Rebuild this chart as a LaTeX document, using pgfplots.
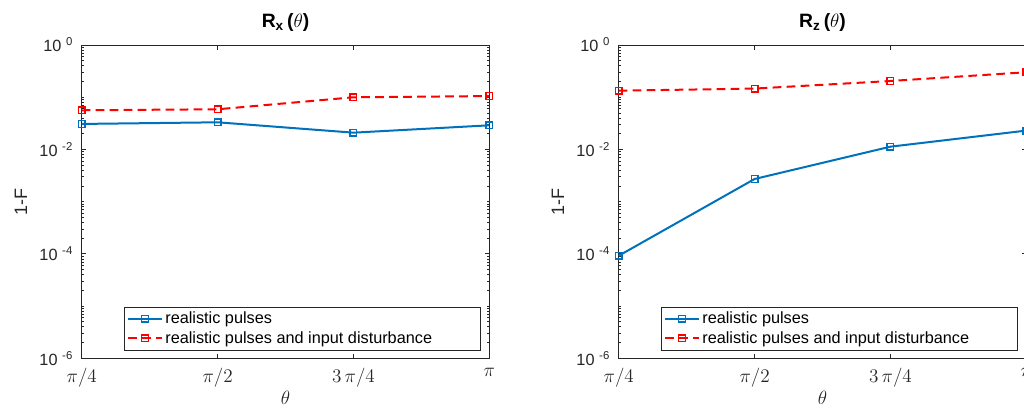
\documentclass[border=0pt]{standalone}
\usepackage{pgfplots}
\pgfplotsset{compat=1.18}
\usepackage{fontspec}
\setmainfont{Liberation Sans}
\definecolor{mblue}{rgb}{0,0.447,0.741}
\definecolor{mred}{rgb}{1,0,0}
\definecolor{mgray}{rgb}{0.15,0.15,0.15}

\pgfplotstableread{
x  y
1  0.0307
2  0.0330
3  0.0209
4  0.0289
}\LeftBlue
\pgfplotstableread{
x  y
1  0.0561
2  0.0586
3  0.0995
4  0.105
}\LeftRed
\pgfplotstableread{
x  y
1  9.2e-5
2  0.00271
3  0.01127
4  0.0229
}\RightBlue
\pgfplotstableread{
x  y
1  0.133
2  0.146
3  0.204
4  0.300
}\RightRed

\tikzset{
  blueline/.style={color=mblue, line width=1.5pt, mark=square, mark size=2.5pt, mark options={solid, line width=1pt}},
  redline/.style={color=mred, line width=1.5pt, dash pattern=on 6.5pt off 4pt, mark=square, mark size=2.5pt, mark options={solid, line width=1pt}},
}
\pgfplotsset{
  legend image code/.code={
    \draw[mark repeat=2,mark phase=2] plot coordinates {(0pt,0pt) (12.5pt,0pt) (25pt,0pt)};
  },
}
\newcommand{\tenexp}[1]{10\hspace{3.5pt}\textsuperscript{#1}}

\begin{document}
\begin{tikzpicture}
\begin{axis}[
    at={(0pt,0pt)}, anchor=south west,
    scale only axis, width=305.7pt, height=235pt,
    ymode=log, ymin=1e-6, ymax=1,
    xmin=1, xmax=4, xtick={1,2,3,4},
    xticklabels={$\pi/4$,$\pi/2$,$3\,\pi/4$,$\pi$},
    ytick={1e-6,1e-4,1e-2,1},
    yticklabels={\tenexp{-6},\tenexp{-4},\tenexp{-2},\tenexp{0}},
    minor ytick={2e-6,3e-6,4e-6,5e-6,6e-6,7e-6,8e-6,9e-6,1e-5,2e-5,3e-5,4e-5,5e-5,6e-5,7e-5,8e-5,9e-5,2e-4,3e-4,4e-4,5e-4,6e-4,7e-4,8e-4,9e-4,1e-3,2e-3,3e-3,4e-3,5e-3,6e-3,7e-3,8e-3,9e-3,2e-2,3e-2,4e-2,5e-2,6e-2,7e-2,8e-2,9e-2,1e-1,2e-1,3e-1,4e-1,5e-1,6e-1,7e-1,8e-1,9e-1},
    axis line style={mgray, line width=0.5pt},
    tick style={mgray, line width=0.5pt},
    major tick length=3.5pt, minor tick length=2pt,
    yticklabel style={font=\fontsize{12.2}{14}\selectfont, text=mgray, xshift=-3pt},
    xticklabel style={font=\fontsize{14}{16}\selectfont, text=mgray, yshift=-4pt},
    xlabel={$\theta$},
    xlabel style={font=\fontsize{14}{16}\selectfont, text=mgray, at={(axis description cs:0.5,-0.149)}, anchor=base},
    ylabel={1-F},
    ylabel style={font=\fontsize{13.5}{15}\selectfont, text=mgray, at={(axis description cs:-0.149,0.5)}, anchor=center},
    title={R\textsubscript{x}\,(\textnormal{$\theta$})},
    title style={font=\fontsize{14.5}{16}\selectfont\bfseries, at={(axis description cs:0.5,1.03)}, anchor=base},
    legend style={at={(rel axis cs:0.978,0.0255)}, anchor=south east,
      draw=mgray, line width=0.5pt, fill=white,
      font=\fontsize{12.2}{14}\selectfont, text=black,
      inner xsep=2pt, inner ysep=1.5pt, row sep=0.5pt},
    legend cell align=left,
  ]
  \addplot[blueline] table[x=x,y=y] {\LeftBlue};
  \addlegendentry{\makebox[232pt][l]{realistic pulses}}
  \addplot[redline] table[x=x,y=y] {\LeftRed};
  \addlegendentry{realistic pulses and input disturbance}
\end{axis}
\begin{axis}[
    at={(402.75pt,0pt)}, anchor=south west,
    scale only axis, width=305.7pt, height=235pt,
    ymode=log, ymin=1e-6, ymax=1,
    xmin=1, xmax=4, xtick={1,2,3,4},
    xticklabels={$\pi/4$,$\pi/2$,$3\,\pi/4$,$\pi$},
    ytick={1e-6,1e-4,1e-2,1},
    yticklabels={\tenexp{-6},\tenexp{-4},\tenexp{-2},\tenexp{0}},
    minor ytick={2e-6,3e-6,4e-6,5e-6,6e-6,7e-6,8e-6,9e-6,1e-5,2e-5,3e-5,4e-5,5e-5,6e-5,7e-5,8e-5,9e-5,2e-4,3e-4,4e-4,5e-4,6e-4,7e-4,8e-4,9e-4,1e-3,2e-3,3e-3,4e-3,5e-3,6e-3,7e-3,8e-3,9e-3,2e-2,3e-2,4e-2,5e-2,6e-2,7e-2,8e-2,9e-2,1e-1,2e-1,3e-1,4e-1,5e-1,6e-1,7e-1,8e-1,9e-1},
    axis line style={mgray, line width=0.5pt},
    tick style={mgray, line width=0.5pt},
    major tick length=3.5pt, minor tick length=2pt,
    yticklabel style={font=\fontsize{12.2}{14}\selectfont, text=mgray, xshift=-3pt},
    xticklabel style={font=\fontsize{14}{16}\selectfont, text=mgray, yshift=-4pt},
    xlabel={$\theta$},
    xlabel style={font=\fontsize{14}{16}\selectfont, text=mgray, at={(axis description cs:0.5,-0.149)}, anchor=base},
    ylabel={1-F},
    ylabel style={font=\fontsize{13.5}{15}\selectfont, text=mgray, at={(axis description cs:-0.149,0.5)}, anchor=center},
    title={R\textsubscript{z}\,(\textnormal{$\theta$})},
    title style={font=\fontsize{14.5}{16}\selectfont\bfseries, at={(axis description cs:0.5,1.03)}, anchor=base},
    legend style={at={(rel axis cs:0.978,0.0255)}, anchor=south east,
      draw=mgray, line width=0.5pt, fill=white,
      font=\fontsize{12.2}{14}\selectfont, text=black,
      inner xsep=2pt, inner ysep=1.5pt, row sep=0.5pt},
    legend cell align=left,
  ]
  \addplot[blueline] table[x=x,y=y] {\RightBlue};
  \addlegendentry{\makebox[232pt][l]{realistic pulses}}
  \addplot[redline] table[x=x,y=y] {\RightRed};
  \addlegendentry{realistic pulses and input disturbance}
\end{axis}
\pgfresetboundingbox
\useasboundingbox (-61.3pt,-38.8pt) rectangle (706.7pt,268.7pt);
\end{tikzpicture}
\end{document}
